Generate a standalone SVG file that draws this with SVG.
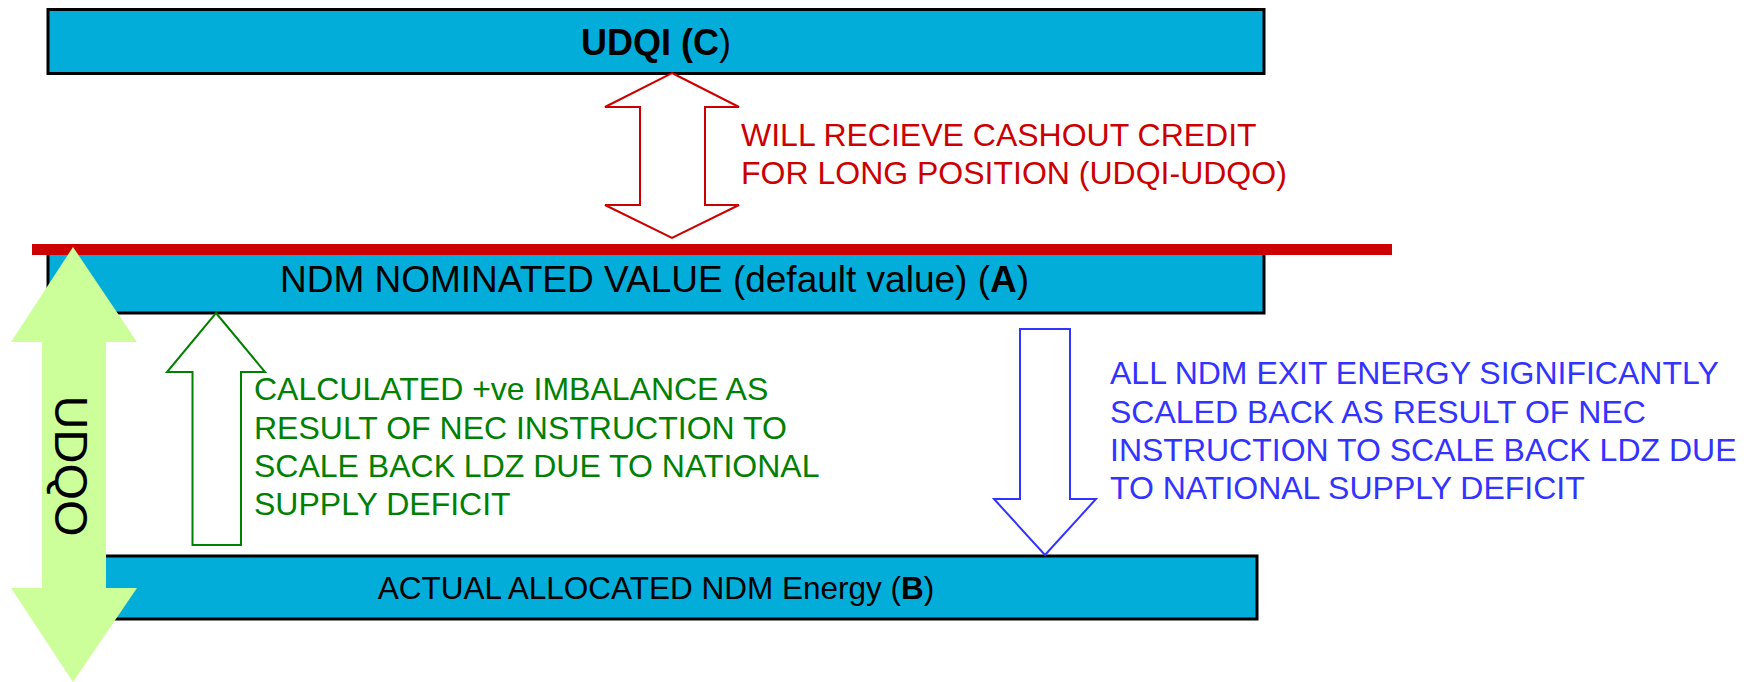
<svg xmlns="http://www.w3.org/2000/svg" width="1750" height="682" viewBox="0 0 1750 682">
<style>
.box{fill:#02AED9;stroke:#000;stroke-width:3}
.t{font-family:"Liberation Sans",Arial,sans-serif;fill:#000}
.lbl{font-family:"Liberation Sans",Arial,sans-serif;font-size:32px}
.red{fill:#CC0000}
.grn{fill:#008000}
.blu{fill:#3333FF}
.hollow{fill:#fff;stroke-width:2;stroke-linejoin:miter}
</style>
<rect width="1750" height="682" fill="#fff"/>
<g id="node-udqi">
<rect class="box" x="48" y="9.5" width="1216" height="64"/>
<text class="t" x="656" y="55" font-size="36" text-anchor="middle"><tspan font-weight="bold">UDQI (C</tspan>)</text>
</g>
<g id="node-ndm">
<rect class="box" x="48" y="248" width="1216" height="65"/>
<text class="t" x="654.5" y="292" font-size="37" text-anchor="middle">NDM NOMINATED VALUE (default value) (<tspan font-weight="bold">A</tspan>)</text>
</g>
<g id="node-actual">
<rect class="box" x="48" y="556" width="1209" height="63"/>
<text class="t" x="656" y="599" font-size="31.5" text-anchor="middle">ACTUAL ALLOCATED NDM Energy (<tspan font-weight="bold">B</tspan>)</text>
</g>
<g id="redline">
<rect x="32" y="244" width="1360" height="11" fill="#CC0000"/>
</g>
<g id="connectors">
<polygon class="hollow" stroke="#CC0000" points="672,73 739,107 705,107 705,205 739,205 672,238 605,205 640,205 640,107 605,107"/>
<polygon class="hollow" stroke="#008000" points="216,313 265,372 241,372 241,545 192.5,545 192.5,372 167,372"/>
<polygon class="hollow" stroke="#3333FF" points="1020,329 1070,329 1070,499 1096,499 1045,555 994,499 1020,499"/>
<g id="udqo">
<polygon fill="#CCFF99" points="73,247 137,342 106,342 106,588 137,588 73,682 11,588 42,588 42,342 11,342"/>
<text class="t" transform="translate(55,466) rotate(90)" font-size="47" text-anchor="middle">UDQO</text>
</g>
</g>
<g id="label-red" class="lbl red">
<text x="741" y="146">WILL RECIEVE CASHOUT CREDIT</text>
<text x="741" y="184">FOR LONG POSITION (UDQI-UDQO)</text>
</g>
<g id="label-green" class="lbl grn">
<text x="254" y="400">CALCULATED +ve IMBALANCE AS</text>
<text x="254" y="439">RESULT OF NEC INSTRUCTION TO</text>
<text x="254" y="477">SCALE BACK LDZ DUE TO NATIONAL</text>
<text x="254" y="515">SUPPLY DEFICIT</text>
</g>
<g id="label-blue" class="lbl blu">
<text x="1110" y="384">ALL NDM EXIT ENERGY SIGNIFICANTLY</text>
<text x="1110" y="423">SCALED BACK AS RESULT OF NEC</text>
<text x="1110" y="461">INSTRUCTION TO SCALE BACK LDZ DUE</text>
<text x="1110" y="499">TO NATIONAL SUPPLY DEFICIT</text>
</g>
</svg>
